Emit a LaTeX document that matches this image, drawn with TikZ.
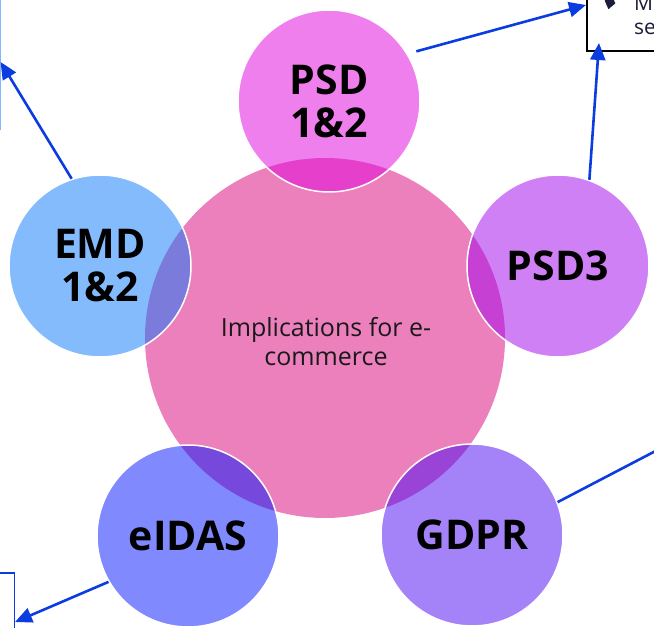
\documentclass[tikz,border=0pt]{standalone}
\usepackage{fontspec}
\setmainfont{Open Sans}
\usetikzlibrary{arrows.meta,calc}

\definecolor{hubpink}{HTML}{EC80BC}
\definecolor{psdmag}{HTML}{E100DD}
\definecolor{psdviolet}{HTML}{A101EB}
\definecolor{gdprpurple}{HTML}{4907F3}
\definecolor{eidasblue}{HTML}{0213FD}
\definecolor{emdblue}{HTML}{0977F9}
\definecolor{linkblue}{HTML}{0A3CE0}
\definecolor{paleedge}{HTML}{80B8FF}
\definecolor{notetext}{HTML}{1C1C3C}

\tikzset{
  hub/.style={circle, fill=hubpink, minimum size=360pt, inner sep=0pt},
  hubtext/.style={align=center, font=\fontsize{25}{29}\selectfont,
    text=black!90, inner sep=0pt},
  petal/.style={circle, minimum size=182pt, inner sep=0pt, fill=#1,
    fill opacity=0.5, text opacity=1, draw=white, line width=1.5pt,
    align=center, font=\fontsize{41}{43}\selectfont\bfseries},
  link/.style={draw=linkblue, line width=2.6pt,
    -{Triangle[length=17pt,width=15pt]}},
  framebox/.style={draw=#1, line width=1.5pt, inner sep=0pt},
  notefont/.style={anchor=base west, text=notetext,
    font=\fontsize{21}{25}\selectfont, inner sep=0pt},
}

\begin{document}
\begin{tikzpicture}[x=1pt,y=-1pt]
\useasboundingbox (0,0) rectangle (654,628);
\clip (0,0) rectangle (654,628);

% central hub
\node (hub) [hub] at (325,338) {};
\node (hublabel) [hubtext] at (326,342) {Implications for e-\\commerce};

% surrounding directives
\node (psd12) [petal=psdmag]     at (329,101) {PSD\\1\&2};
\node (psd3)  [petal=psdviolet]  at (558,266) {PSD3};
\node (gdpr)  [petal=gdprpurple] at (472,535) {GDPR};
\node (eidas) [petal=eidasblue]  at (188,536) {eIDAS};
\node (emd)   [petal=emdblue]    at (100,266) {EMD\\1\&2};

% callout boxes, mostly beyond the edges
\node (notebox) [framebox=black, anchor=south west,
  minimum width=120pt, minimum height=90pt] at (586,52) {};
\node (emdbox) [framebox=paleedge, anchor=south east,
  minimum width=200pt, minimum height=150pt] at (0.6,130) {};
\node (eidasbox) [framebox=linkblue, anchor=north east,
  minimum width=100pt, minimum height=100pt] at (15,572) {};
\coordinate (gdprend) at (690,433);

% note box contents
\node (bullet) [fill=notetext, minimum size=9pt, inner sep=0pt,
  rotate=40, xslant=0.3] at (610,2) {};
\node (noteA) [notefont] at (634,11) {M};
\node (noteB) [notefont] at (634,35) {se};

% connectors
\draw[link, shorten <=9pt] (psd12.31) -- ($(notebox.south west)+(0,-47)$);
\draw[link] (psd3.70) -- ($(notebox.south west)+(13,-9)$);
\draw[link] (emd.108) -- ($(emdbox.south east)+(0,-68)$);
\draw[link] (eidas.210) -- ($(eidasbox.north east)+(0,50)$);
\draw[link] (gdpr.21) -- (gdprend);
\end{tikzpicture}
\end{document}
